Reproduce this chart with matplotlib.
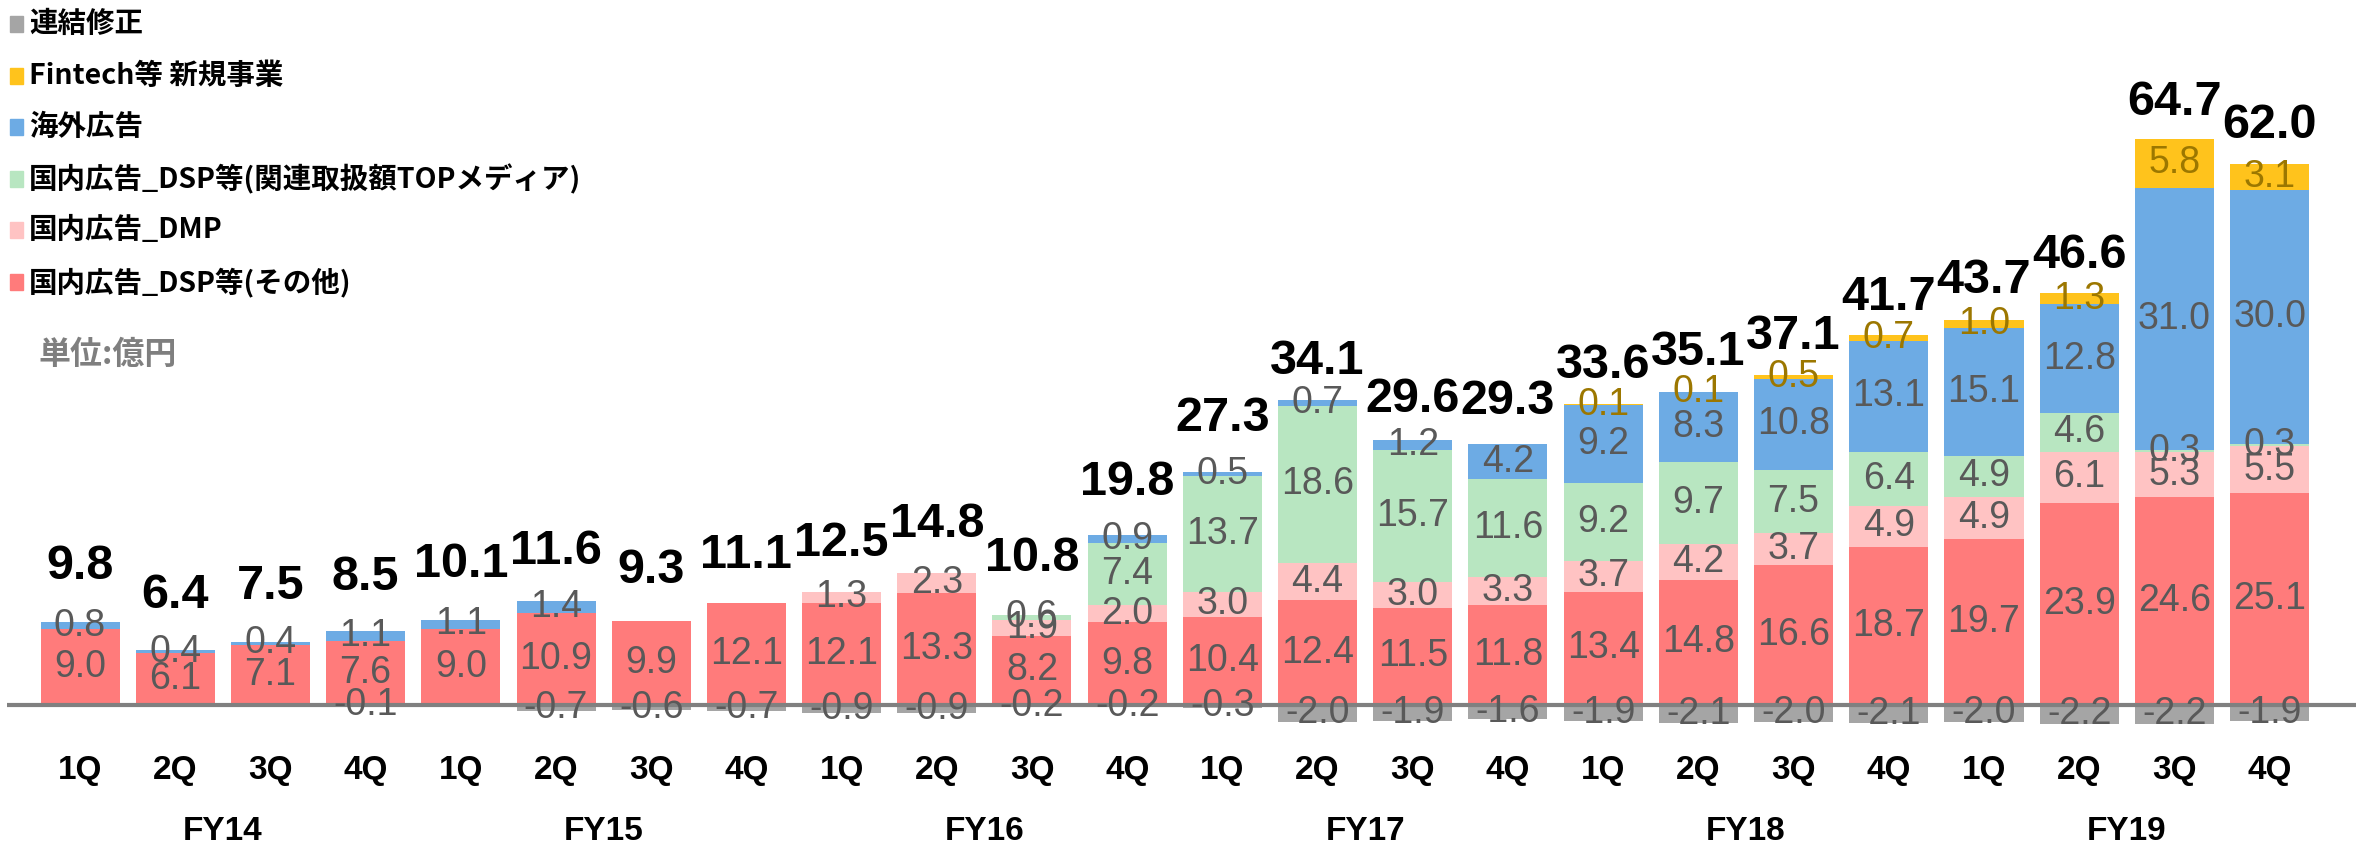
import matplotlib
matplotlib.use('Agg')
import matplotlib.pyplot as plt
from matplotlib.patches import Rectangle

# ---------------- data ----------------
quarters = ['1Q', '2Q', '3Q', '4Q'] * 6
fiscal_years = ['FY14', 'FY15', 'FY16', 'FY17', 'FY18', 'FY19']

dsp_other = [9.0, 6.1, 7.1, 7.6, 9.0, 10.9, 9.9, 12.1, 12.1, 13.3, 8.2, 9.8,
             10.4, 12.4, 11.5, 11.8, 13.4, 14.8, 16.6, 18.7, 19.7, 23.9, 24.6, 25.1]
dmp = [0, 0, 0, 0, 0, 0, 0, 0, 1.3, 2.3, 1.9, 2.0,
       3.0, 4.4, 3.0, 3.3, 3.7, 4.2, 3.7, 4.9, 4.9, 6.1, 5.3, 5.5]
dsp_top = [0, 0, 0, 0, 0, 0, 0, 0, 0, 0, 0.6, 7.4,
           13.7, 18.6, 15.7, 11.6, 9.2, 9.7, 7.5, 6.4, 4.9, 4.6, 0.3, 0.3]
overseas = [0.8, 0.4, 0.4, 1.1, 1.1, 1.4, 0, 0, 0, 0, 0, 0.9,
            0.5, 0.7, 1.2, 4.2, 9.2, 8.3, 10.8, 13.1, 15.1, 12.8, 31.0, 30.0]
fintech = [0, 0, 0, 0, 0, 0, 0, 0, 0, 0, 0, 0,
           0, 0, 0, 0, 0.1, 0.1, 0.5, 0.7, 1.0, 1.3, 5.8, 3.1]
consol_adj = [0, 0, 0, -0.1, 0, -0.7, -0.6, -0.7, -0.9, -0.9, -0.2, -0.2,
              -0.3, -2.0, -1.9, -1.6, -1.9, -2.1, -2.0, -2.1, -2.0, -2.2, -2.2, -1.9]
totals = [9.8, 6.4, 7.5, 8.5, 10.1, 11.6, 9.3, 11.1, 12.5, 14.8, 10.8, 19.8,
          27.3, 34.1, 29.6, 29.3, 33.6, 35.1, 37.1, 41.7, 43.7, 46.6, 64.7, 62.0]

name_dsp_other = '国内広告_DSP等(その他)'
name_dmp = '国内広告_DMP'
name_dsp_top = '国内広告_DSP等(関連取扱額TOPメディア)'
name_overseas = '海外広告'
name_fintech = 'Fintech等 新規事業'
name_adj = '連結修正'
unit_text = '単位:億円'

# ---------------- layout ----------------
W, H = 2356, 849
fig = plt.figure(figsize=(W / 100, H / 100), dpi=100)
ax = fig.add_axes([0, 0, 1, 1])
ax.axis('off')

PX_PER_BAR = 95.2
PX_PER_UNIT = 8.45
ZERO_PX = 705
FIRST_CENTER = 80

xmin = -FIRST_CENTER / PX_PER_BAR
xmax = xmin + W / PX_PER_BAR
ymin = -(H - ZERO_PX) / PX_PER_UNIT
ymax = ymin + H / PX_PER_UNIT
ax.set_xlim(xmin, xmax)
ax.set_ylim(ymin, ymax)


def py(p):
    return ymin + (H - p) / PX_PER_UNIT


def pxx(p):
    return xmin + p / PX_PER_BAR


NUM = ['Liberation Sans', 'DejaVu Sans']
JP = ['Noto Sans CJK JP', 'DejaVu Sans']
LBL = '#595959'
GOLD_LBL = '#9C7700'

positive_series = [
    (name_dsp_other, dsp_other, '#FF7B7B', LBL),
    (name_dmp, dmp, '#FFC3C3', LBL),
    (name_dsp_top, dsp_top, '#B8E6C1', LBL),
    (name_overseas, overseas, '#6DABE4', LBL),
    (name_fintech, fintech, '#FFC31C', GOLD_LBL),
]
adj_color = '#A5A5A5'

x = list(range(len(quarters)))
bw = 79 / PX_PER_BAR
bottom = [0.0] * len(x)
for name, vals, col, lc in positive_series:
    ax.bar(x, vals, width=bw, bottom=bottom, color=col, zorder=2, linewidth=0)
    for i, v in enumerate(vals):
        if v > 0:
            ax.text(i, bottom[i] + v / 2, f'{v:.1f}', ha='center', va='center',
                    fontsize=27, color=lc, family=NUM, zorder=5)
    bottom = [b + v for b, v in zip(bottom, vals)]

ax.bar(x, consol_adj, width=bw, color=adj_color, zorder=2, linewidth=0)
for i, v in enumerate(consol_adj):
    if v < 0:
        ax.text(i, v / 2, f'{v:.1f}', ha='center', va='center',
                fontsize=27, color=LBL, family=NUM, zorder=5)

# totals
for i, t in enumerate(totals):
    ax.annotate(f'{t:.1f}', xy=(i, t), xytext=(0, 43), textcoords='offset pixels',
                ha='center', va='baseline', fontsize=35, fontweight='bold',
                color='black', family=NUM, zorder=6)

# zero line
ax.plot([pxx(7), xmax], [0, 0], color='#808080', lw=3, solid_capstyle='butt', zorder=4)

# category labels
for i, q in enumerate(quarters):
    ax.text(i, py(771), q, ha='center', va='center', fontsize=24,
            fontweight='bold', family=NUM, color='black')
for k, fy in enumerate(fiscal_years):
    ax.text(4 * k + 1.5, py(832), fy, ha='center', va='center', fontsize=24,
            fontweight='bold', family=NUM, color='black')

# legend (top-left, reverse of stacking order)
legend_items = [(name_adj, adj_color)] + [(n, c) for n, _, c, _ in positive_series[::-1]]
for k, (name, col) in enumerate(legend_items):
    yc = 24 + 51.6 * k
    fig.patches.append(Rectangle((10 / W, 1 - (yc + 8) / H), 13 / W, 16 / H,
                                 transform=fig.transFigure, color=col, zorder=5))
    fig.text(29 / W, 1 - yc / H, name, ha='left', va='center', fontsize=20.5,
             fontweight='bold', family=JP, color='black')

fig.text(38 / W, 1 - 355 / H, unit_text, ha='left', va='center', fontsize=23,
         fontweight='bold', family=JP, color='#7F7F7F')

fig.savefig('out.png', dpi=100)
